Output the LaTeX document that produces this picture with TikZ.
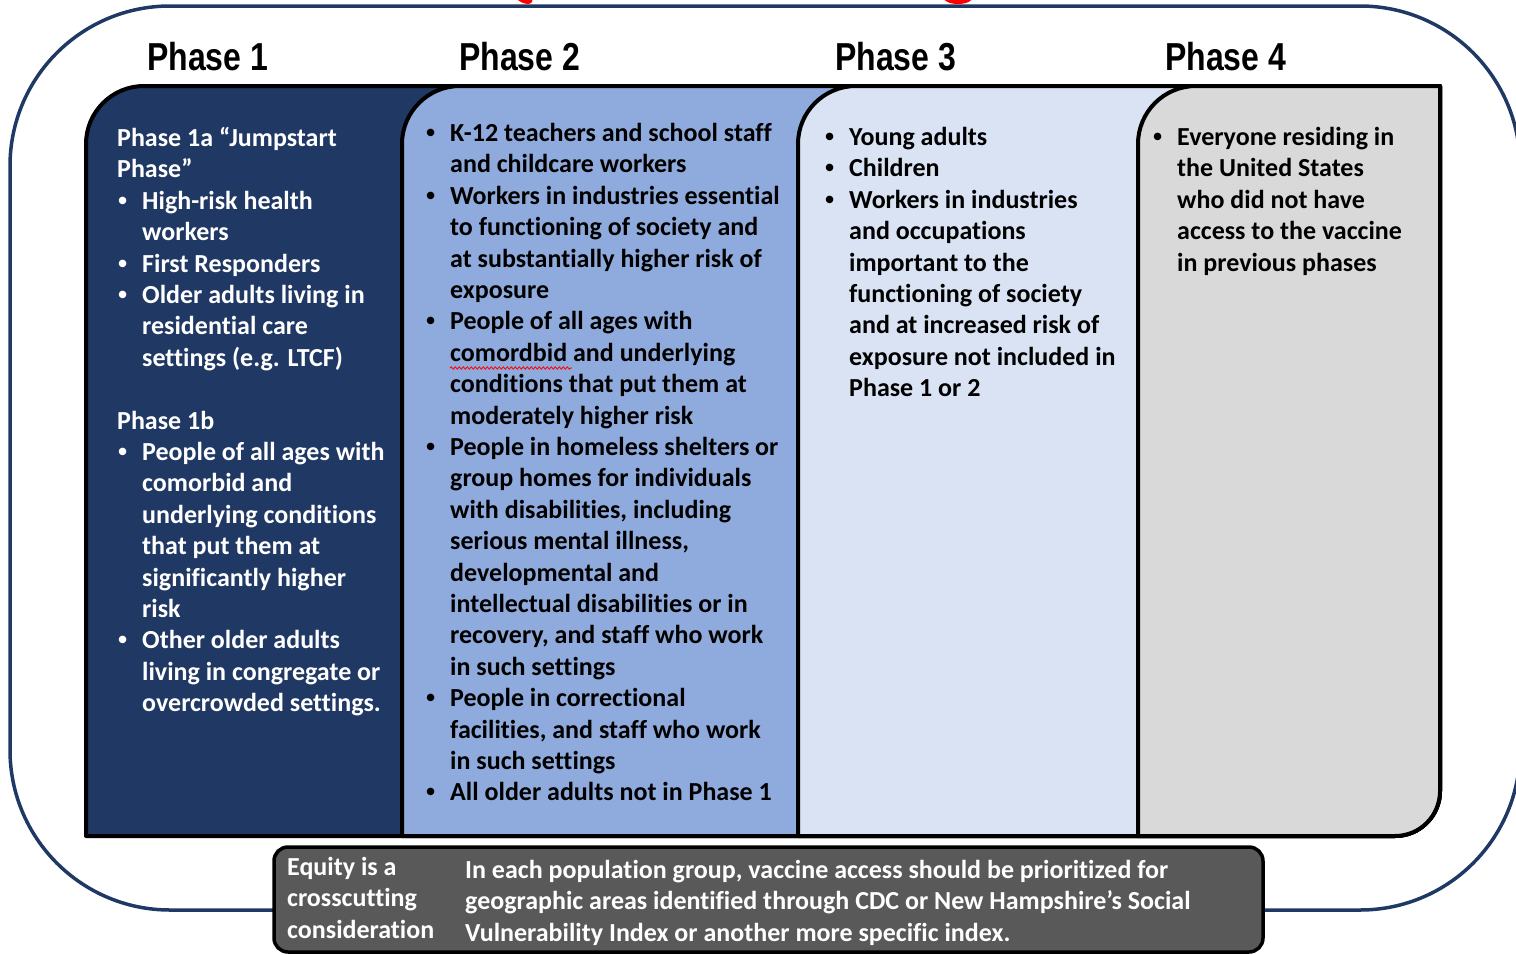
\documentclass[tikz,border=0pt]{standalone}
\usepackage{fontspec}
\setmainfont{Carlito}[Ligatures=CommonOff]
\newfontfamily\headfont{Liberation Sans}[FakeStretch=0.82]
\newfontfamily\bulletfont{Liberation Sans}
\usetikzlibrary{positioning}
\usetikzlibrary{decorations.pathmorphing}
\definecolor{framenavy}{HTML}{203864}
\definecolor{phaseone}{HTML}{203864}
\definecolor{phasetwo}{HTML}{8FAADC}
\definecolor{phasethree}{HTML}{DAE3F3}
\definecolor{phasefour}{HTML}{D9D9D9}
\definecolor{equitygray}{HTML}{595959}
\newcommand{\bu}{\makebox[25pt][l]{\hspace{1pt}{\bulletfont\textbullet}}}
\newcommand{\cn}{\hspace*{25pt}}
\newcommand{\phasepanel}[2]{\filldraw[panel, fill=#1] (#2,836) -- (#2,144)
  arc[start angle=180, end angle=270, radius=58] -- (1440,86) -- (1440,791)
  arc[start angle=0, end angle=90, radius=45] -- cycle;}

\begin{document}
\begin{tikzpicture}[x=1pt, y=-1pt,
				head/.style = {font=\headfont\bfseries\fontsize{39}{39}\selectfont,
					anchor=base west, inner sep=0},
				items/.style = {font=\bfseries\fontsize{26}{31.4}\selectfont,
					align=left, anchor=north west, inner sep=0},
				panel/.style = {draw=black, line width=4pt, line join=round}]
				
				\useasboundingbox (0,0) rectangle (1516,954);
				
				% Title remnants
				\fill[red, rotate around={-25:(524,-2)}] (524,-2) ellipse (9 and 5);
				\fill[red] (958,-3) ellipse (15 and 7);
				
				% Outer frame
				\draw[framenavy, line width=3.5pt, rounded corners=160pt] (10,6) rectangle (1520,910);
				
				% Phase panels
				\phasepanel{phaseone}{86}
				\phasepanel{phasetwo}{402}
				\phasepanel{phasethree}{798}
				\phasepanel{phasefour}{1138}
				
				% Headings
				\node[head] (h1) at (147,70) {Phase 1};
				\node[head] (h2) at (459,70) {Phase 2};
				\node[head] (h3) at (835,70) {Phase 3};
				\node[head] (h4) at (1165,70) {Phase 4};
				
				% Phase 1
				\node[items, text=white] (t1) at (117,127) {Phase 1a “Jumpstart\\
					Phase”\\
					\bu High-risk health\\
					\cn workers\\
					\bu First Responders\\
					\bu Older adults living in\\
					\cn residential care\\
					\cn settings (e.g. LTCF)\\[31.4pt]
					Phase 1b\\
					\bu People of all ages with\\
					\cn comorbid and\\
					\cn underlying conditions\\
					\cn that put them at\\
					\cn significantly higher\\
					\cn risk\\
					\bu Other older adults\\
					\cn living in congregate or\\
					\cn overcrowded settings.};
				
				% Phase 2
				\node[items] (t2) at (425,123) {\bu K-12 teachers and school staff\\
					\cn and childcare workers\\
					\bu Workers in industries essential\\
					\cn to functioning of society and\\
					\cn at substantially higher risk of\\
					\cn exposure\\
					\bu People of all ages with\\
					\cn comordbid and underlying\\
					\cn conditions that put them at\\
					\cn moderately higher risk\\
					\bu People in homeless shelters or\\
					\cn group homes for individuals\\
					\cn with disabilities, including\\
					\cn serious mental illness,\\
					\cn developmental and\\
					\cn intellectual disabilities or in\\
					\cn recovery, and staff who work\\
					\cn in such settings\\
					\bu People in correctional\\
					\cn facilities, and staff who work\\
					\cn in such settings\\
					\bu All older adults not in Phase 1};
				\draw[red, line width=0.8pt, decorate,
					decoration={snake, amplitude=1.2pt, segment length=4pt}] (450,368) -- (572,368);
				
				% Phase 3
				\node[items] (t3) at (824,127) {\bu Young adults\\
					\bu Children\\
					\bu Workers in industries\\
					\cn and occupations\\
					\cn important to the\\
					\cn functioning of society\\
					\cn and at increased risk of\\
					\cn exposure not included in\\
					\cn Phase 1 or 2};
				
				% Phase 4
				\node[items] (t4) at (1152,127) {\bu Everyone residing in\\
					\cn the United States\\
					\cn who did not have\\
					\cn access to the vaccine\\
					\cn in previous phases};
				
				% Equity box
				\filldraw[fill=equitygray, line width=3.5pt, rounded corners=14pt] (274,847) rectangle (1263,952);
				\node[items, text=white] (eq) at (287,857) {Equity is a\\
					crosscutting\\
					consideration};
				\node[items, text=white] (eqtext) at (465,860) {In each population group, vaccine access should be prioritized for\\
					geographic areas identified through CDC or New Hampshire’s Social\\
					Vulnerability Index or another more specific index.};
				
\end{tikzpicture}
\end{document}
